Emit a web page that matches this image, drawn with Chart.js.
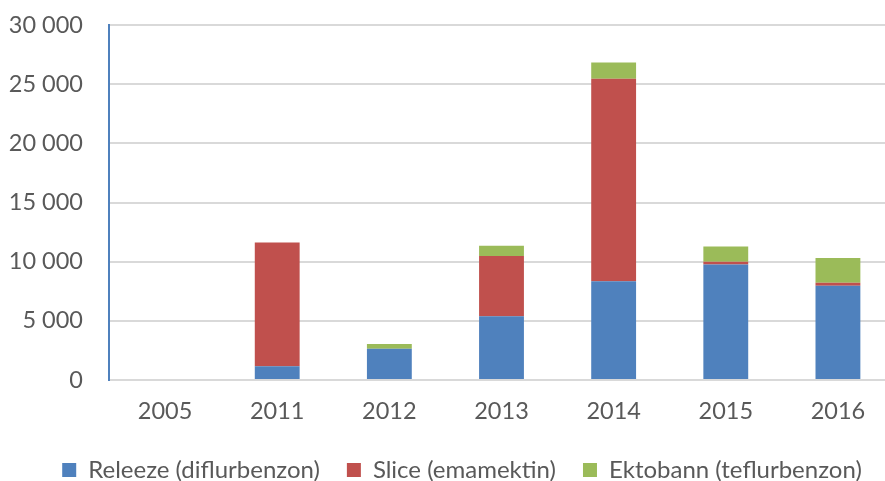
<!DOCTYPE html>
<html>
<head>
<meta charset="utf-8">
<script src="https://cdn.jsdelivr.net/npm/chart.js@4"></script>
<style>
html,body{margin:0;padding:0;background:#fff;overflow:hidden;}
#wrap{width:894px;height:481px;position:relative;}
</style>
</head>
<body>
<div id="wrap"><canvas id="c" width="894" height="481"></canvas></div>
<script>
const years = ['2005','2011','2012','2013','2014','2015','2016'];
const releeze = [0,1160,2640,5380,8340,9770,7970];
const slice = [0,10470,0,5090,17110,220,250];
const ektobann = [0,0,400,870,1390,1300,2090];
const seriesNames = ['Releeze (diflurbenzon)','Slice (emamektin)','Ektobann (teflurbenzon)'];
const yTicks = [0,5000,10000,15000,20000,25000,30000];

const FONT = 'Lato, "Open Sans", sans-serif';
const fmt = v => String(v).replace(/\B(?=(\d{3})+(?!\d))/g,' ');
const LEG_PAD = 27;

const legendShift = {
  id:'legendShift',
  afterLayout(chart){
    const lg = chart.legend;
    if(!lg) return;
    const dx = 15;
    lg.left += dx; lg.right += dx;
    const h = lg.bottom - lg.top;
    lg.top = 470 - LEG_PAD - 12;
    lg.bottom = lg.top + h;
  }
};

const zeroPad = s => { s.paddingTop = 0; s.paddingBottom = 0; s.paddingLeft = 0; s.paddingRight = 0; };

new Chart(document.getElementById('c'), {
  type:'bar',
  data:{
    labels: years,
    datasets:[
      {label:seriesNames[0], data:releeze, backgroundColor:'#4f81bd'},
      {label:seriesNames[1], data:slice, backgroundColor:'#c0504d'},
      {label:seriesNames[2], data:ektobann, backgroundColor:'#9bbb59'}
    ]
  },
  plugins:[legendShift],
  options:{
    responsive:false,
    animation:false,
    layout:{padding:{top:25,left:0,right:0,bottom:0}},
    datasets:{bar:{categoryPercentage:1, barPercentage:0.4}},
    plugins:{
      tooltip:{enabled:false},
      legend:{
        position:'bottom',
        maxHeight:54.5,
        labels:{
          boxWidth:14, boxHeight:14, padding:LEG_PAD,
          color:'#595959',
          font:{family:FONT,size:24}
        }
      }
    },
    scales:{
      x:{
        stacked:true,
        grid:{display:false, drawTicks:false},
        border:{color:'#d9d9d9', width:2},
        ticks:{color:'#595959', font:{family:FONT,size:23.5}, padding:17},
        afterFit: s => { s.height = 46.5; zeroPad(s); }
      },
      y:{
        stacked:true,
        min:0, max:30000,
        afterBuildTicks: s => { s.ticks = yTicks.map(v=>({value:v})); },
        grid:{color:'#d9d9d9', lineWidth:2, drawTicks:false},
        border:{color:'#4f81bd', width:2},
        ticks:{color:'#595959', font:{family:FONT,size:23.5}, padding:26, callback: v => fmt(v)},
        afterFit: s => { s.width = 109; zeroPad(s); }
      }
    }
  }
});
</script>
</body>
</html>
